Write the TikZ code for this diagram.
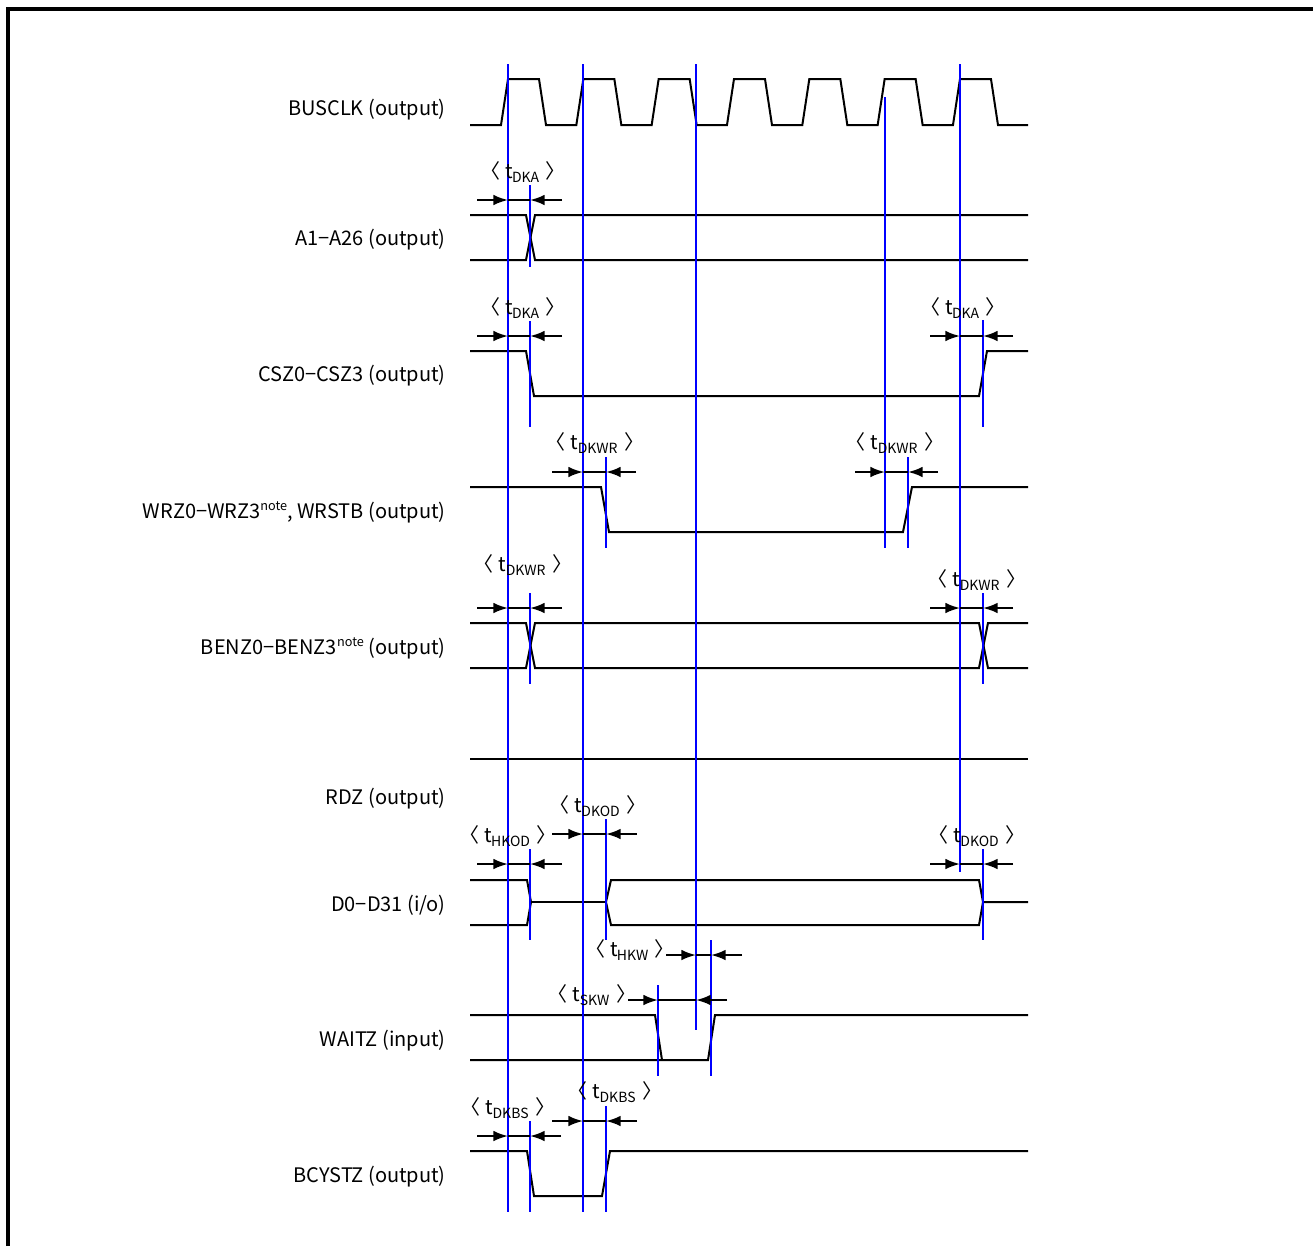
\documentclass[tikz,border=0pt]{standalone}
\usepackage{fontspec}
\setmainfont{Noto Sans CJK JP}
\usetikzlibrary{arrows.meta}
\newcommand\tsig[1]{t\textsubscript{\kern-0.5pt#1}}
\newcommand\tann[1]{〈\hspace{0.25em}\tsig{#1}\hspace{0.3em}〉}
\newcommand\notesup{\raisebox{0.75ex}{\fontsize{9.5}{10}\selectfont note}}
% measurement arrows: #1 start, #2 first tip, #3 second tip, #4 end, #5 y
\newcommand\tarr[5]{%
  \draw[sig,-{Latex[length=11pt,width=8pt]}] (#1,#5) -- (#2,#5);
  \draw[sig] (#2,#5) -- (#3,#5);
  \draw[sig,-{Latex[length=11pt,width=8pt]}] (#4,#5) -- (#3,#5);}
\begin{document}
\begin{tikzpicture}[x=0.75pt,y=-0.75pt,
  sig/.style={line width=1.5pt,black,line join=miter},
  refline/.style={line width=1.5pt,draw={rgb,255:red,0;green,0;blue,255}},
  lab/.style={anchor=east,inner sep=0pt,font=\fontsize{15}{17}\selectfont},
  ann/.style={inner sep=0pt,font=\fontsize{15}{17}\selectfont}]
\useasboundingbox (0,0) rectangle (1313,1246);
% frame
\draw[line width=2.3pt] (8,1246) -- (8,9) -- (1313,9);

% ---- labels
\node[lab] (l1) at (446,110) {BUSCLK (output)};
\node[lab] (l2) at (446,240) {A1−A26 (output)};
\node[lab] (l3) at (446,376) {CSZ0−CSZ3 (output)};
\node[lab] (l4) at (446,512) {WRZ0−WRZ3\notesup, WRSTB (output)};
\node[lab] (l5) at (446,648) {BENZ0−BENZ3\notesup\ (output)};
\node[lab] (l6) at (446,799) {RDZ (output)};
\node[lab] (l7) at (446,905) {D0−D31 (i/o)};
\node[lab] (l8) at (446,1041) {WAITZ (input)};
\node[lab] (l9) at (446,1177) {BCYSTZ (output)};

% ---- waveforms
\draw[sig] (470,125) foreach \k in {0,...,6} {
  -- ({501+75.33*\k},125) -- ({508+75.33*\k},79) -- ({539+75.33*\k},79) -- ({546+75.33*\k},125)} -- (1028,125);
% A1-A26
\draw[sig] (470,215) -- (526,215) -- (535,260) -- (1028,260);
\draw[sig] (470,260) -- (526,260) -- (535,215) -- (1028,215);
% CSZ
\draw[sig] (470,351) -- (526,351) -- (534,396) -- (979,396) -- (987,351) -- (1028,351);
% WRZ
\draw[sig] (470,487) -- (601,487) -- (609,532) -- (903,532) -- (912,487) -- (1028,487);
% BENZ
\draw[sig] (470,623) -- (526,623) -- (535,668) -- (979,668) -- (988,623) -- (1028,623);
\draw[sig] (470,668) -- (526,668) -- (535,623) -- (979,623) -- (988,668) -- (1028,668);
% RDZ
\draw[sig] (470,759) -- (1028,759);
% D0-D31
\draw[sig] (470,880) -- (527,880) -- (531,902) -- (527,925) -- (470,925);
\draw[sig] (531,902) -- (606,902);
\draw[sig] (1028,902) -- (983,902) -- (979,880) -- (611,880) -- (606,902) -- (611,925) -- (979,925) -- (983,902);
% WAITZ
\draw[sig] (470,1015) -- (655,1015) -- (662,1060);
\draw[sig] (470,1060) -- (708,1060) -- (715,1015) -- (1028,1015);
% BCYSTZ
\draw[sig] (470,1151) -- (527,1151) -- (534,1196) -- (602,1196) -- (610,1151) -- (1028,1151);

% ---- blue reference lines
\draw[refline] (508,64) -- (508,1212);
\draw[refline] (583,64) -- (583,1212);
\draw[refline] (696,64) -- (696,1030);
\draw[refline] (885,97) -- (885,548);
\draw[refline] (960,64) -- (960,872);
\draw[refline] (530,185) -- (530,267);
\draw[refline] (530,321) -- (530,427);
\draw[refline] (983,320) -- (983,427);
\draw[refline] (606,457) -- (606,548);
\draw[refline] (908,457) -- (908,548);
\draw[refline] (530,593) -- (530,684);
\draw[refline] (983,593) -- (983,684);
\draw[refline] (530,849) -- (530,940);
\draw[refline] (606,819) -- (606,940);
\draw[refline] (983,849) -- (983,940);
\draw[refline] (658,985) -- (658,1076);
\draw[refline] (711,940) -- (711,1076);
\draw[refline] (530,1121) -- (530,1212);
\draw[refline] (606,1106) -- (606,1212);

% ---- timing annotations
\node[ann] (a1) at (523,172) {\tann{DKA}};
\tarr{477}{508}{530}{562}{200}
\node[ann] (a2) at (523,308) {\tann{DKA}};
\tarr{477}{508}{530}{562}{336}
\node[ann] (a3) at (963,308) {\tann{DKA}};
\tarr{930}{960}{983}{1013}{336}
\node[ann] (a4) at (595,443) {\tann{DKWR}};
\tarr{552}{583}{606}{636}{472}
\node[ann] (a5) at (895,443) {\tann{DKWR}};
\tarr{855}{885}{908}{938}{472}
\node[ann] (a6) at (523,565) {\tann{DKWR}};
\tarr{477}{508}{530}{562}{608}
\node[ann] (a7) at (977,580) {\tann{DKWR}};
\tarr{930}{960}{983}{1013}{608}
\node[ann] (a8) at (598,806) {\tann{DKOD}};
\tarr{552}{583}{606}{637}{834}
\node[ann] (a9) at (508,836) {\tann{HKOD}};
\tarr{477}{508}{530}{562}{864}
\node[ann] (a10) at (977,836) {\tann{DKOD}};
\tarr{930}{960}{983}{1013}{864}
\node[ann] (a11) at (630,950) {\tann{HKW}};
\tarr{666}{696}{711}{742}{955}
\node[ann] (a12) at (592,995) {\tann{SKW}};
\tarr{628}{658}{696}{727}{1000}
\node[ann] (a13) at (508,1108) {\tann{DKBS}};
\tarr{477}{508}{530}{561}{1136}
\node[ann] (a14) at (615,1092) {\tann{DKBS}};
\tarr{552}{583}{606}{637}{1121}
\end{tikzpicture}
\end{document}
